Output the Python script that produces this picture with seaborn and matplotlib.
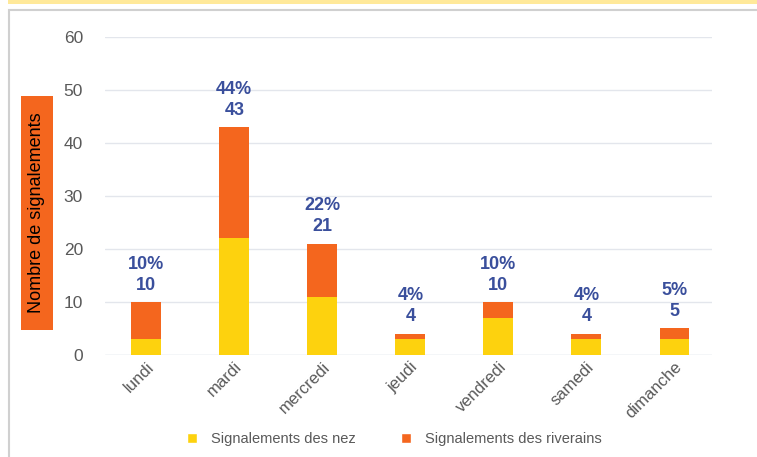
import numpy as np
import pandas as pd
import seaborn as sns
import matplotlib.pyplot as plt
from matplotlib.patches import Rectangle, Patch

jours = ["lundi", "mardi", "mercredi", "jeudi", "vendredi", "samedi", "dimanche"]
nez = [3, 22, 11, 3, 7, 3, 3]
riverains = [7, 21, 10, 1, 3, 1, 2]

yellow = "#FDD20E"
orange = "#F4661E"
blue = "#3A4F9C"
grey_txt = "#595959"

df = pd.DataFrame({"jour": jours, "nez": nez, "riverains": riverains})
df["total"] = df["nez"] + df["riverains"]
total_all = df["total"].sum()

sns.set_style("white")
plt.rcParams['font.family'] = ['Liberation Sans', 'DejaVu Sans']

fig = plt.figure(figsize=(7.57, 4.57), dpi=100)
# top yellow band and grey frame
fig.patches.append(Rectangle((8 / 757, 1 - 4 / 457), 1, 4 / 457, transform=fig.transFigure,
                             facecolor="#FFE99A", edgecolor="none"))
fig.patches.append(Rectangle((9 / 757, -0.1), 1, 1 - 10 / 457 + 0.1, transform=fig.transFigure,
                             facecolor="none", edgecolor="#D0D0D0", linewidth=1.5))
# orange box behind the y label
fig.patches.append(Rectangle((21 / 757, 1 - 330 / 457), 32 / 757, 234 / 457,
                             transform=fig.transFigure, facecolor=orange, edgecolor="none"))

ax = fig.add_axes([0.139, 0.2232, 0.802, 0.6958])

sns.barplot(data=df, x="jour", y="total", color=orange, width=0.34, saturation=1,
            linewidth=0, ax=ax)
sns.barplot(data=df, x="jour", y="nez", color=yellow, width=0.34, saturation=1,
            linewidth=0, ax=ax)

for i, t in enumerate(df["total"]):
    pct = round(100 * t / total_all)
    ax.text(i, t + 1.6, f"{pct}%\n{t}", ha="center", va="bottom", color=blue,
            fontsize=13, fontweight="bold", linespacing=1.3)

ax.set_ylim(0, 60)
ax.set_xlim(-0.466, 6.43)
ax.set_yticks(range(0, 61, 10))
ax.yaxis.grid(True, color="#E3E6EC", linewidth=1)
ax.set_axisbelow(True)
sns.despine(ax=ax, left=True, top=True, right=True, bottom=True)
ax.axhline(0, color="#E3E6EC", linewidth=1, zorder=0)
ax.tick_params(axis="y", colors=grey_txt, labelsize=12.5, length=0, pad=16)
ax.tick_params(axis="x", colors=grey_txt, labelsize=12, length=0, pad=3)
plt.setp(ax.get_xticklabels(), rotation=45, ha="right", rotation_mode="anchor")
ax.set_xlabel("")
ax.set_ylabel("")

fig.text(37 / 757, 1 - 213 / 457, "Nombre de signalements", rotation=90, ha="center", va="center",
         fontsize=13, color="black")

handles = [Patch(facecolor=yellow, label="Signalements des nez"),
           Patch(facecolor=orange, label="Signalements des riverains")]
fig.legend(handles=handles, loc="center", bbox_to_anchor=(0.521, 1 - 439 / 457), ncol=2,
           frameon=False, fontsize=10.5, labelcolor=grey_txt, handlelength=0.7, handleheight=0.7,
           columnspacing=3.1, handletextpad=0.95)

fig.savefig("out.png", dpi=100)
